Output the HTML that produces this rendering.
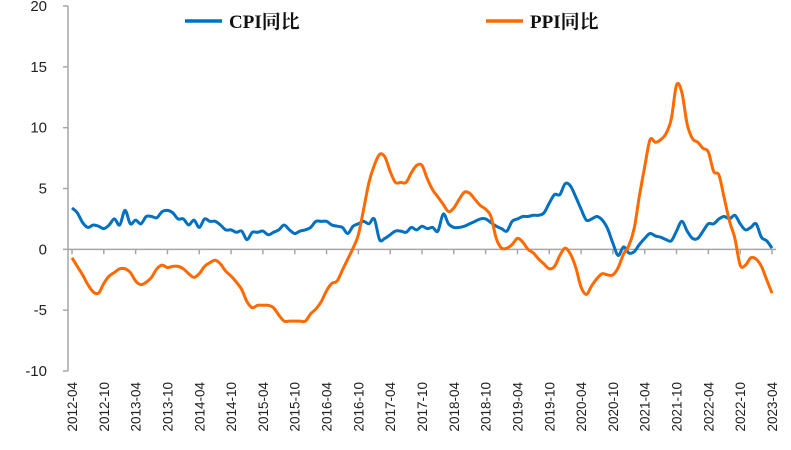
<!DOCTYPE html>
<html><head><meta charset="utf-8"><style>
html,body{margin:0;padding:0;background:#fff;}
svg{display:block;font-family:"Liberation Sans","Noto Sans CJK SC",sans-serif;}
</style></head><body>
<svg id="chart" width="791" height="450" viewBox="0 0 791 450">
<g id="axes"></g>
<g id="series"></g>
<g>
  <g>
    <line x1="185" y1="21" x2="222" y2="21" stroke="#0070C0" stroke-width="3.5"/>
    <text x="229" y="28" font-size="19" font-weight="bold" font-family="Liberation Serif,'Noto Serif CJK SC',serif" fill="#111">CPI同比</text>
  </g>
  <g>
    <line x1="486" y1="21" x2="523" y2="21" stroke="#FF6A00" stroke-width="3.5"/>
    <text x="530" y="28" font-size="19" font-weight="bold" font-family="Liberation Serif,'Noto Serif CJK SC',serif" fill="#111">PPI同比</text>
  </g>
</g>
</svg>
<script>
const yTicks = [20, 15, 10, 5, 0, -5, -10];
const startYear = 2012, startMonth = 4;
const cpi = [3.4,3.0,2.2,1.8,2.0,1.9,1.7,2.0,2.5,
2.0,3.2,2.1,2.4,2.1,2.7,2.7,2.6,3.1,3.2,3.0,2.5,
2.5,2.0,2.4,1.8,2.5,2.3,2.3,2.0,1.6,1.6,1.4,1.5,
0.8,1.4,1.4,1.5,1.2,1.4,1.6,2.0,1.6,1.3,1.5,1.6,
1.8,2.3,2.3,2.3,2.0,1.9,1.8,1.3,1.9,2.1,2.3,2.1,
2.5,0.8,0.9,1.2,1.5,1.5,1.4,1.8,1.6,1.9,1.7,1.8,
1.5,2.9,2.1,1.8,1.8,1.9,2.1,2.3,2.5,2.5,2.2,1.9,
1.7,1.5,2.3,2.5,2.7,2.7,2.8,2.8,3.0,3.8,4.5,4.5,
5.4,5.2,4.3,3.3,2.4,2.5,2.7,2.4,1.7,0.5,-0.5,0.2,
-0.3,-0.2,0.4,0.9,1.3,1.1,1.0,0.8,0.7,1.5,2.3,1.5,
0.9,0.9,1.5,2.1,2.1,2.5,2.7,2.5,2.8,2.1,1.6,1.8,
2.1,1.0,0.7,0.1];
const ppi = [-0.7,-1.4,-2.1,-2.9,-3.5,-3.6,-2.8,-2.2,-1.9,
-1.6,-1.6,-1.9,-2.6,-2.9,-2.7,-2.3,-1.6,-1.3,-1.5,-1.4,-1.4,
-1.6,-2.0,-2.3,-2.0,-1.4,-1.1,-0.9,-1.2,-1.8,-2.2,-2.7,-3.3,
-4.3,-4.8,-4.6,-4.6,-4.6,-4.8,-5.4,-5.9,-5.9,-5.9,-5.9,-5.9,
-5.3,-4.9,-4.3,-3.4,-2.8,-2.6,-1.7,-0.8,0.1,1.2,3.3,5.5,
6.9,7.8,7.6,6.4,5.5,5.5,5.5,6.3,6.9,6.9,5.8,4.9,
4.3,3.7,3.1,3.4,4.1,4.7,4.6,4.1,3.6,3.3,2.7,0.9,
0.1,0.1,0.4,0.9,0.6,0.0,-0.3,-0.8,-1.2,-1.6,-1.4,-0.5,
0.1,-0.4,-1.5,-3.1,-3.7,-3.0,-2.4,-2.0,-2.1,-2.1,-1.5,-0.4,
0.3,1.7,4.4,6.8,9.0,8.8,9.0,9.5,10.7,13.5,12.9,10.3,
9.1,8.8,8.3,8.0,6.4,6.1,4.2,2.3,0.9,-1.3,-1.3,-0.7,
-0.8,-1.4,-2.5,-3.6];

const NS='http://www.w3.org/2000/svg';
const x0=72, x1=772, yTop=6, yBot=371, vMax=20, vMin=-10;
const n=cpi.length;
function xs(i){return x0+(x1-x0)*i/(n-1);}
function ys(v){return yTop+(vMax-v)*(yBot-yTop)/(vMax-vMin);}
function mk(tag,attrs,parent){const e=document.createElementNS(NS,tag);for(const k in attrs)e.setAttribute(k,attrs[k]);parent.appendChild(e);return e;}
const axes=document.getElementById('axes'), series=document.getElementById('series');

const yAxis=mk('line',{x1:68,y1:ys(vMax),x2:68,y2:ys(vMin),stroke:'#a6a6a6','stroke-width':1.5},axes);


yTicks.forEach(t=>{
  const tk=mk('line',{x1:63,y1:ys(t),x2:68,y2:ys(t),stroke:'#a6a6a6','stroke-width':1.5},axes);
  
  
  const lb=mk('text',{x:47,y:ys(t)+5,'text-anchor':'end','font-size':15,fill:'#222'},axes);
  lb.textContent=t;
  
  
});
const xAxis=mk('line',{x1:68,y1:ys(0),x2:x1+4,y2:ys(0),stroke:'#a6a6a6','stroke-width':1.5},axes);


for(let i=0;i<n;i+=6){
  const m=startMonth-1+i, yr=startYear+Math.floor(m/12), mo=(m%12)+1;
  const lbl=yr+'-'+(mo<10?'0':'')+mo;
  const tk=mk('line',{x1:xs(i),y1:ys(0),x2:xs(i),y2:ys(0)+5,stroke:'#a6a6a6','stroke-width':1.5},axes);
  
  
  const tx=mk('text',{x:0,y:0,'text-anchor':'end','font-size':13.5,fill:'#222',transform:`translate(${xs(i)+5},382) rotate(-90)`},axes);
  tx.textContent=lbl;
  
  
}
function smooth(vals){
  const p=vals.map((v,i)=>[xs(i),ys(v)]);
  let d=`M${p[0][0]},${p[0][1]}`;
  for(let i=0;i<p.length-1;i++){
    const a=p[i-1]||p[i], b=p[i], c=p[i+1], e=p[i+2]||c;
    d+=` C${b[0]+(c[0]-a[0])/6},${b[1]+(c[1]-a[1])/6} ${c[0]-(e[0]-b[0])/6},${c[1]-(e[1]-b[1])/6} ${c[0]},${c[1]}`;
  }
  return d;
}
const lc=mk('path',{d:smooth(cpi),fill:'none',stroke:'#0070C0','stroke-width':3,'stroke-linejoin':'round'},series);


const lp=mk('path',{d:smooth(ppi),fill:'none',stroke:'#FF6A00','stroke-width':3,'stroke-linejoin':'round'},series);


</script>
</body></html>
